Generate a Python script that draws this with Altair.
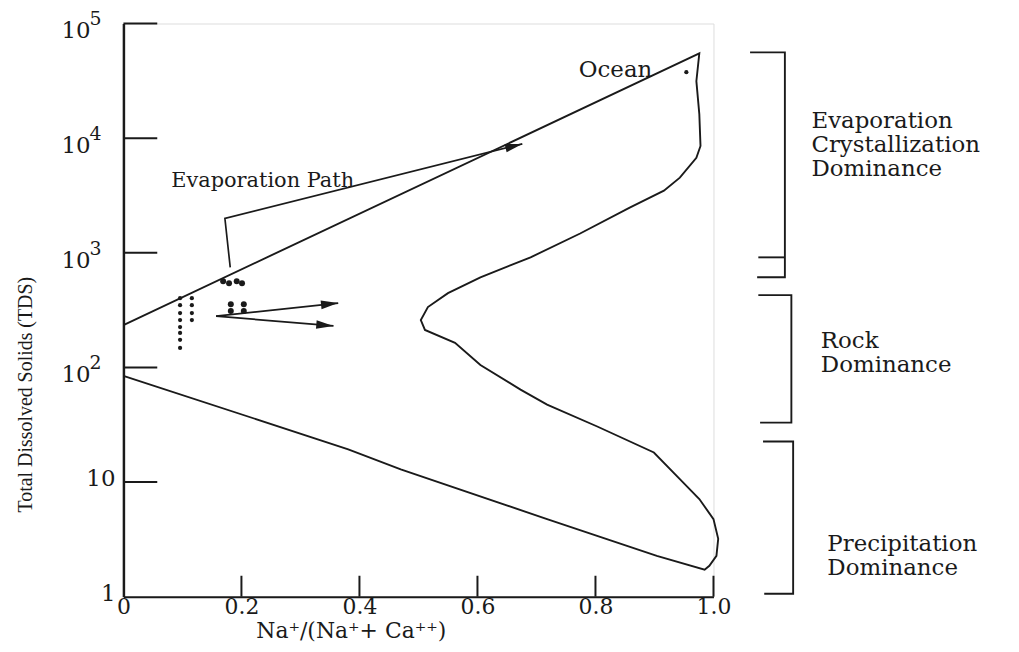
import math
import altair as alt
import pandas as pd

W, H = 593, 576
FONT = "DejaVu Serif"
INK = "#1a1a1a"

# ---- Gibbs envelope (Na/(Na+Ca), TDS) ----
env_x = [0.0, 0.976, 0.971, 0.976, 0.978, 0.971, 0.943, 0.916, 0.858, 0.774, 0.690,
         0.605, 0.550, 0.516, 0.504, 0.511, 0.562, 0.605, 0.673, 0.718, 0.803, 0.899,
         0.943, 0.976, 1.000, 1.008, 1.005, 0.993, 0.985, 0.904, 0.718, 0.470, 0.381, 0.0]
env_y = [234, 54900, 31400, 16200, 8550, 6730, 4520, 3480, 2480, 1473, 912,
         611, 444, 336, 259, 212, 164, 105, 64, 47.3, 30.5, 18.1,
         10.6, 7.1, 4.75, 3.19, 2.27, 1.86, 1.72, 2.27, 4.75, 12.9, 19.3, 84.5]

# ---- sample points ----
small_x = [0.096] * 8 + [0.116] * 4
small_y = [402, 349, 298, 259, 225, 200, 174, 148, 402, 349, 298, 259]
big_x = [0.169, 0.179, 0.192, 0.201, 0.182, 0.204, 0.182, 0.204]
big_y = [565, 542, 565, 542, 356, 356, 310, 310]
ocean_x = [0.954]
ocean_y = [37600]

# ---- evaporation path and rock arrows ----
evap_x = [0.181, 0.172, 0.676]
evap_y = [747, 1990, 8910]
rock_start = (0.157, 280)
rock_end_x = [0.364, 0.356]
rock_end_y = [364, 230]

# ---- regions (TDS ranges of brackets) ----
bracket_top = [56000, 427, 22.6]
bracket_bottom = [611, 33, 1.06]
bracket_extra = 912
region_labels = ["Evaporation\nCrystallization\nDominance", "Rock\nDominance",
                 "Precipitation\nDominance"]
region_label_x = [1.166, 1.182, 1.193]
region_label_y = [14100, 170, 2.88]

# ---- axis ticks ----
x_ticks = [0.2, 0.4, 0.6, 0.8, 1.0]
y_ticks = [10, 100, 1000, 10000, 100000]
pow_vals = [100, 1000, 10000, 100000]
pow_exp = ["2", "3", "4", "5"]
plain_vals = [10, 1]
plain_text = ["10", "1"]


def xpx(v):
    return v * W


def ypx(v):
    return H - math.log10(v) / 5 * H


def ang(x0, y0, x1, y1):
    return math.degrees(math.atan2(ypx(y1) - ypx(y0), xpx(x1) - xpx(x0))) % 360


xs = alt.Scale(domain=[0, 1], nice=False, zero=False)
ys = alt.Scale(type="log", domain=[1, 100000], nice=False)
X = alt.X("x:Q", scale=xs,
          axis=alt.Axis(values=[0, 0.2, 0.4, 0.6, 0.8, 1.0],
                        labelExpr="datum.value == 0 ? '0' : format(datum.value, '.1f')",
                        ticks=False, grid=False, domainColor=INK, domainWidth=2,
                        labelFont=FONT, labelFontSize=22, labelColor=INK,
                        labelPadding=0, labelOverlap=False, labelFlush=False, title=None))
Y = alt.Y("y:Q", scale=ys,
          axis=alt.Axis(labels=False, ticks=False, grid=False, domainColor=INK,
                        domainWidth=2.5, title=None))

env_df = pd.DataFrame({"x": env_x, "y": env_y, "i": range(len(env_x))})
envelope = alt.Chart(env_df).mark_line(color=INK, strokeWidth=1.9).encode(
    x=X, y=Y, order="i:Q")

small = alt.Chart(pd.DataFrame({"x": small_x, "y": small_y})).mark_circle(
    color=INK, opacity=1, size=18).encode(x=X, y=Y)
big = alt.Chart(pd.DataFrame({"x": big_x, "y": big_y})).mark_circle(
    color=INK, opacity=1, size=36).encode(x=X, y=Y)
ocean = alt.Chart(pd.DataFrame({"x": ocean_x, "y": ocean_y})).mark_circle(
    color=INK, opacity=1, size=18).encode(x=X, y=Y)

evap_df = pd.DataFrame({"x": evap_x, "y": evap_y, "i": range(3)})
evap = alt.Chart(evap_df).mark_line(color=INK, strokeWidth=1.7).encode(
    x=X, y=Y, order="i:Q")

rock_rows = []
for k, (ex, ey) in enumerate(zip(rock_end_x, rock_end_y)):
    rock_rows.append({"x": rock_start[0], "y": rock_start[1], "g": k, "i": 0})
    rock_rows.append({"x": ex, "y": ey, "g": k, "i": 1})
rock = alt.Chart(pd.DataFrame(rock_rows)).mark_line(color=INK, strokeWidth=1.7).encode(
    x=X, y=Y, detail="g:N", order="i:Q")

head_df = pd.DataFrame({
    "x": rock_end_x + [evap_x[-1]],
    "y": rock_end_y + [evap_y[-1]],
    "a": [ang(rock_start[0], rock_start[1], ex, ey) for ex, ey in zip(rock_end_x, rock_end_y)]
         + [ang(evap_x[1], evap_y[1], evap_x[2], evap_y[2])],
})
heads = alt.Chart(head_df).mark_point(
    shape="M -2 -0.5 L 0 0 L -2 0.5 Z", filled=True, color=INK, opacity=1,
    size=300, strokeWidth=0).encode(x=X, y=Y, angle=alt.Angle("a:Q", scale=None))

# brackets
b_left = [1.062, 1.076, 1.084]
b_left_bot = [1.074, 1.079, 1.086]
b_right = [1.121, 1.132, 1.135]
b_rows = []
for k in range(3):
    pts = [(b_left[k], bracket_top[k]), (b_right[k], bracket_top[k]),
           (b_right[k], bracket_bottom[k]), (b_left_bot[k], bracket_bottom[k])]
    for i, (bx, by) in enumerate(pts):
        b_rows.append({"x": bx, "y": by, "g": k, "i": i})
b_rows.append({"x": 1.076, "y": bracket_extra, "g": 3, "i": 0})
b_rows.append({"x": b_right[0], "y": bracket_extra, "g": 3, "i": 1})
brackets = alt.Chart(pd.DataFrame(b_rows)).mark_line(color=INK, strokeWidth=1.9).encode(
    x=X, y=Y, detail="g:N", order="i:Q")

region_text = alt.Chart(pd.DataFrame({"x": region_label_x, "y": region_label_y,
                                      "t": region_labels})).mark_text(
    font=FONT, fontSize=23, color=INK, align="left", baseline="middle",
    lineBreak="\n", lineHeight=24).encode(x=X, y=Y, text="t:N")

ann = alt.Chart(pd.DataFrame({"x": [0.834, 0.236], "y": [39100, 4250],
                              "t": ["Ocean", "Evaporation Path"],
                              "s": [23, 21]})).mark_text(
    font=FONT, color=INK, align="center", baseline="middle").encode(
    x=X, y=Y, text="t:N", size=alt.Size("s:Q", scale=None))

# inward ticks
ytick = alt.Chart(pd.DataFrame({"y": y_ticks})).mark_rule(color=INK, strokeWidth=2).encode(
    y=Y, x=alt.value(0), x2=alt.value(34))
xtick = alt.Chart(pd.DataFrame({"x": x_ticks})).mark_rule(color=INK, strokeWidth=2).encode(
    x=X, y=alt.value(H - 21), y2=alt.value(H))

pow_base = alt.Chart(pd.DataFrame({"y": pow_vals, "t": ["10"] * 4})).mark_text(
    font=FONT, fontSize=23, color=INK, align="right", baseline="middle", dy=8).encode(
    y=Y, x=alt.value(-33), text="t:N")
pow_sup = alt.Chart(pd.DataFrame({"y": pow_vals, "t": pow_exp})).mark_text(
    font=FONT, fontSize=19, color=INK, align="left", baseline="middle", dy=-4).encode(
    y=Y, x=alt.value(-34), text="t:N")
plain = alt.Chart(pd.DataFrame({"y": plain_vals, "t": plain_text})).mark_text(
    font=FONT, fontSize=23, color=INK, align="right", baseline="middle", dy=-3).encode(
    y=Y, x=alt.value(-8), text="t:N")

ytitle = alt.Chart(pd.DataFrame({"t": ["Total Dissolved Solids (TDS)"]})).mark_text(
    font="Liberation Serif", fontSize=20, color=INK, angle=270, align="center",
    baseline="middle").encode(x=alt.value(-98), y=alt.value(373), text="t:N")
xtitle = alt.Chart(pd.DataFrame({"t": ["Na⁺/(Na⁺+ Ca⁺⁺)"]})).mark_text(
    font=FONT, fontSize=22, color=INK, align="center", baseline="alphabetic").encode(
    x=alt.value(229), y=alt.value(618), text="t:N")

chart = alt.layer(
    envelope, evap, rock, heads, small, big, ocean, brackets, region_text, ann,
    ytick, xtick, pow_base, pow_sup, plain, ytitle, xtitle
).properties(
    width=W, height=H,
    padding={"left": 116, "top": 14, "right": 299, "bottom": 46},
    autosize=alt.AutoSizeParams(type="none"),
).configure_view(stroke=None).configure(background="white")

chart.save("out.html", embed_options={"renderer": "svg", "actions": False})
